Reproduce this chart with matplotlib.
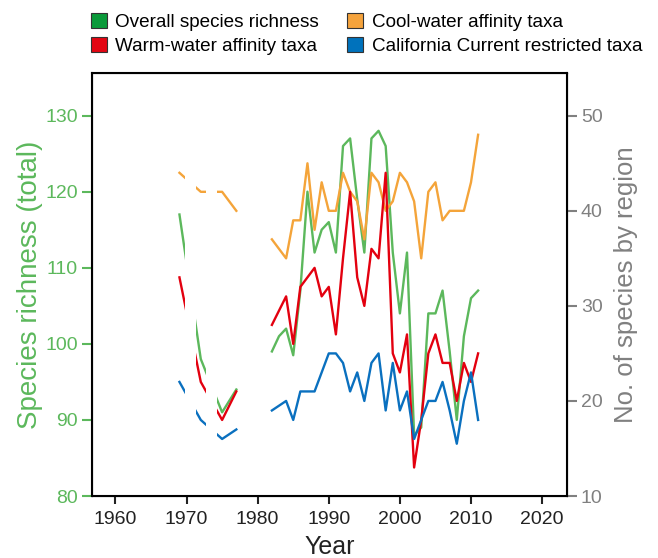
import matplotlib
matplotlib.use('Agg')
import matplotlib.pyplot as plt
from matplotlib.patches import Patch

plt.rcParams['font.family'] = ['Liberation Sans', 'DejaVu Sans']

# early surveys (drawn broken) and the continuous 1982-2011 record
early_years = [1969, 1972, 1975, 1977]
years = list(range(1982, 2012))

overall_early = [117, 98, 91, 94]
cool_early = [44, 42, 42, 40]
warm_early = [33, 22, 18, 21]
cc_early = [22, 18, 16, 17]

overall = [99, 101, 102, 98.5, 107, 120, 112, 115, 116, 112,
           126, 127, 119, 112, 127, 128, 126, 112, 104, 112,
           88, 89, 104, 104, 107, 99, 90, 101, 106, 107]
cool = [37, 36, 35, 39, 39, 45, 38, 43, 40, 40,
        44, 42, 41, 37, 44, 43, 40, 41, 44, 43,
        41, 35, 42, 43, 39, 40, 40, 40, 43, 48]
warm = [28, 29.5, 31, 26, 32, 33, 34, 31, 32, 27,
        35, 42, 33, 30, 36, 35, 44, 25, 23, 27,
        13, 18, 25, 27, 24, 24, 20, 24, 22, 25]
cc = [19, 19.5, 20, 18, 21, 21, 21, 23, 25, 25,
      24, 21, 23, 20, 24, 25, 19, 24, 19, 21,
      16, 18, 20, 20, 22, 19, 15.5, 20, 23, 18]

labels = ['Overall species richness', 'Warm-water affinity taxa',
          'Cool-water affinity taxa', 'California Current restricted taxa']

c_green = '#5cb85c'
c_red = '#e3000f'
c_orange = '#f4a43a'
c_blue = '#0a70bf'
c_gray = '#808080'

fig = plt.figure(figsize=(6.58, 5.58), dpi=100)
ax = fig.add_axes([0.1398, 0.1111, 0.7219, 0.7581])
ax2 = ax.twinx()

lw = 1.7
ax.plot(early_years, overall_early, color=c_green, lw=lw)
ax.plot(years, overall, color=c_green, lw=lw)
ax2.plot(early_years, cool_early, color=c_orange, lw=lw)
ax2.plot(years, cool, color=c_orange, lw=lw)
ax2.plot(early_years, warm_early, color=c_red, lw=lw)
ax2.plot(years, warm, color=c_red, lw=lw)
ax2.plot(early_years, cc_early, color=c_blue, lw=lw)
ax2.plot(years, cc, color=c_blue, lw=lw)

# breaks in the early record
for a, b in [(1969.8, 1971.3), (1972.7, 1974.3)]:
    ax2.axvspan(a, b, ymin=0.01, ymax=0.99, color='white', lw=0, zorder=5)

ax.set_xlim(1956.7, 2023.5)
ax.set_ylim(80, 135.6)
ax2.set_ylim(10, 54.5)
ax.set_xticks(range(1960, 2021, 10))
ax.set_yticks(range(80, 131, 10))
ax2.set_yticks(range(10, 51, 10))

for s in ['top', 'bottom', 'left', 'right']:
    ax2.spines[s].set_linewidth(1.5)
    ax2.spines[s].set_color('black')

ax.tick_params(axis='x', direction='out', length=6, width=1.5, labelsize=14,
               colors='#222222', pad=5)
ax.tick_params(axis='y', direction='out', length=7, width=1.5, labelsize=14,
               colors=c_green, pad=3)
ax2.tick_params(axis='y', direction='out', length=7, width=1.5, labelsize=14,
                colors=c_gray, pad=3)

ax.set_xlabel('Year', fontsize=18, color='#222222', labelpad=5)
ax.set_ylabel('Species richness (total)', fontsize=20, color=c_green, labelpad=2)
ax2.set_ylabel('No. of species by region', fontsize=18.5, color=c_gray, labelpad=8)

handles = [Patch(facecolor=c, edgecolor='#333333', lw=0.8)
           for c in ['#0a9a3a', '#e30613', '#f5a33c', '#0072bc']]
fig.legend(handles, labels, ncol=2, loc='upper left', bbox_to_anchor=(0.112, 1.007),
           frameon=False, fontsize=13.6, handlelength=0.85, handleheight=0.85,
           handletextpad=0.45, columnspacing=1.5, labelspacing=0.3)

fig.savefig('out.png', dpi=100)
